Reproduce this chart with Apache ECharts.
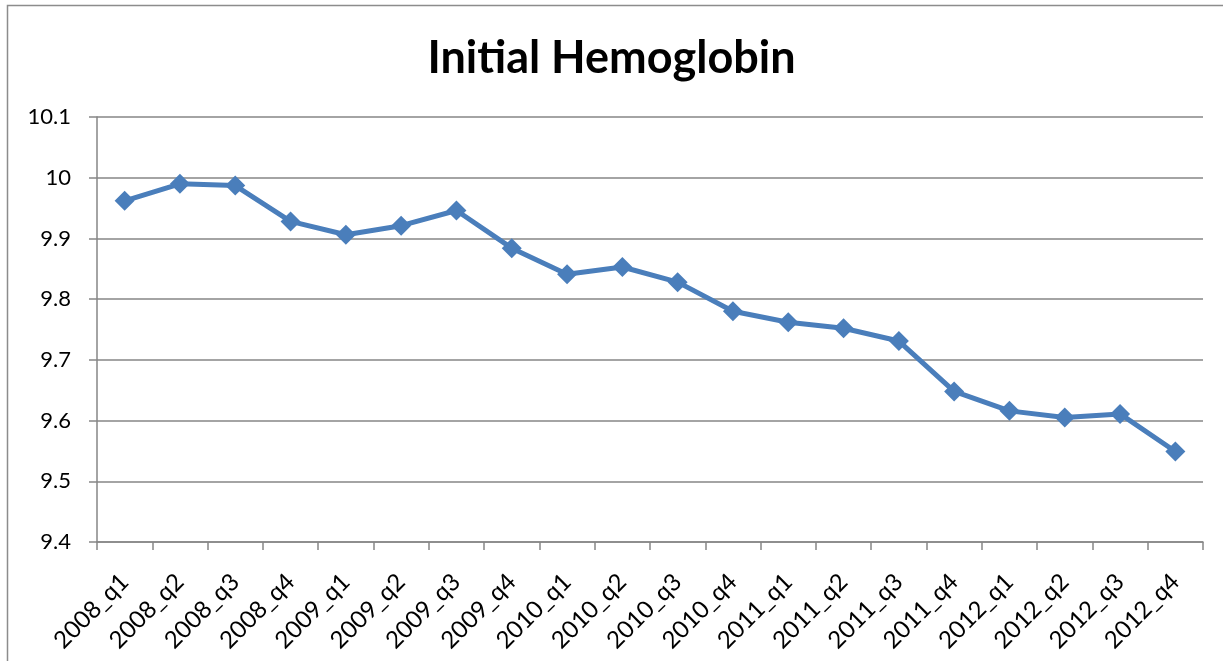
<!DOCTYPE html>
<html><head><meta charset="utf-8">
<script src="https://cdn.jsdelivr.net/npm/echarts@6/dist/echarts.min.js"></script>
<style>html,body{margin:0;padding:0;background:#fff}#c{width:1223px;height:661px}</style>
</head><body><div id="c"></div>
<script>
var categories = ["2008_q1","2008_q2","2008_q3","2008_q4","2009_q1","2009_q2","2009_q3","2009_q4","2010_q1","2010_q2","2010_q3","2010_q4","2011_q1","2011_q2","2011_q3","2011_q4","2012_q1","2012_q2","2012_q3","2012_q4"];
var hemoglobin = [9.962,9.990,9.987,9.928,9.906,9.921,9.946,9.884,9.841,9.853,9.828,9.780,9.762,9.752,9.731,9.648,9.616,9.605,9.611,9.549];
var yTicks = {min:9.4, max:10.1, interval:0.1};
var titleText = "Initial Hemoglobin";

var chart = echarts.init(document.getElementById('c'));
chart.setOption({
  animation:false,
  backgroundColor:'#fff',
  graphic:[{type:'rect',shape:{x:7.5,y:5.5,width:1230,height:670},style:{fill:'none',stroke:'#8c8c8c',lineWidth:1.5},silent:true}],
  title:{text:titleText,left:'center',top:31,textStyle:{fontFamily:'Lato',fontWeight:'bold',fontSize:45,color:'#000'}},
  grid:{left:97,right:20,top:117,bottom:119,containLabel:false},
  xAxis:{type:'category',data:categories,boundaryGap:true,
    axisLine:{lineStyle:{color:'#868686',width:1.5}},
    axisTick:{show:true,alignWithLabel:false,length:8,lineStyle:{color:'#868686',width:1.5}},
    axisLabel:{rotate:45,interval:0,color:'#000',fontFamily:'Lato',fontSize:24,margin:36},
    splitLine:{show:false}},
  yAxis:{type:'value',min:yTicks.min,max:yTicks.max,interval:yTicks.interval,
    axisLine:{show:true,lineStyle:{color:'#868686',width:1.5}},
    axisTick:{show:true,length:8,lineStyle:{color:'#868686',width:1.5}},
    axisLabel:{color:'#000',fontFamily:'Lato',fontSize:22,margin:26,
      formatter:function(v){return parseFloat(v.toFixed(1)).toString();}},
    splitLine:{lineStyle:{color:'#868686',width:1.5}}},
  series:[{type:'line',data:hemoglobin,symbol:'diamond',symbolSize:20,
    lineStyle:{color:'#4a7ebb',width:5},itemStyle:{color:'#4a7ebb'}}]
});
</script></body></html>
